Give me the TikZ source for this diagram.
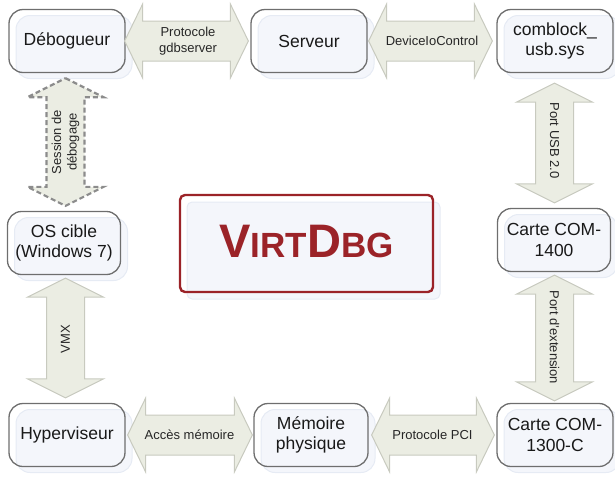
\documentclass[tikz,border=0pt]{standalone}
\usepackage{fontspec}
\setmainfont{Liberation Sans}
\usetikzlibrary{calc,shadows}
\definecolor{boxline}{HTML}{6E6E6E}
\definecolor{shadowfill}{HTML}{F4F6FB}
\definecolor{shadowline}{HTML}{E6EBF4}
\definecolor{arrowfill}{HTML}{EBEDE3}
\definecolor{arrowline}{HTML}{C8CABF}
\definecolor{dashline}{HTML}{8C8C8C}
\definecolor{dbgred}{HTML}{9B2328}
\tikzset{
  boxshadow/.style={drop shadow={shadow xshift=7pt, shadow yshift=-6pt, fill=shadowfill, draw=shadowline, line width=1pt, opacity=1}},
  box/.style={draw=boxline, line width=1.3pt, rounded corners=14pt, minimum width=116pt, minimum height=63pt,
    align=center, font=\fontsize{17.5}{20.5}\selectfont, text=black!90, inner sep=0pt, boxshadow},
  arr/.style={fill=arrowfill, draw=arrowline, line width=1pt},
  dasharr/.style={fill=arrowfill, draw=dashline, line width=2.2pt, dash pattern=on 5pt off 3pt},
  lbl/.style={font=\fontsize{13}{15.5}\selectfont, align=center, text=black!85, inner sep=0pt},
  titlebox/.style={draw=dbgred, line width=2.4pt, rounded corners=5pt, minimum width=253pt, minimum height=97pt,
    drop shadow={shadow xshift=7pt, shadow yshift=-7pt, fill=shadowfill, draw=shadowline, line width=1pt, opacity=1}},
}
\newcommand{\HArr}[3]{%
  \draw[#1] let \p1=(#2), \p2=(#3), \p3=($(#2)!0.5!(#3)$) in
    (\x1,\y3) -- (\x1+18pt,\y3+37pt) -- (\x1+18pt,\y3+20pt) -- (\x2-18pt,\y3+20pt) -- (\x2-18pt,\y3+37pt)
    -- (\x2,\y3) -- (\x2-18pt,\y3-37pt) -- (\x2-18pt,\y3-20pt) -- (\x1+18pt,\y3-20pt) -- (\x1+18pt,\y3-37pt) -- cycle;}
\newcommand{\VArr}[3]{%
  \draw[#1] let \p1=(#2), \p2=(#3), \p3=($(#2)!0.5!(#3)$) in
    (\x3,\y1) -- (\x3+38pt,\y1-19pt) -- (\x3+19pt,\y1-19pt) -- (\x3+19pt,\y2+19pt) -- (\x3+38pt,\y2+19pt)
    -- (\x3,\y2) -- (\x3-38pt,\y2+19pt) -- (\x3-19pt,\y2+19pt) -- (\x3-19pt,\y1-19pt) -- (\x3-38pt,\y1-19pt) -- cycle;}
\begin{document}
\begin{tikzpicture}[x=1pt,y=-1pt]
\useasboundingbox (0,0) rectangle (615,477);
% boxes
\node[box] (deb) at (67,41) {Débogueur};
\node[box] (srv) at (309,41) {Serveur};
\node[box] (usb) at (555,41) {comblock\_\\usb.sys};
\node[box, minimum width=113pt] (os) at (64,243) {OS cible\\(Windows 7)};
\node[box, minimum width=113pt] (c14) at (554,240) {Carte COM-\\1400};
\node[box] (hyp) at (67,435) {Hyperviseur};
\node[box, minimum width=114pt] (mem) at (311,435) {Mémoire\\physique};
\node[box] (c13) at (555,435) {Carte COM-\\1300-C};
% central title
\node[titlebox] (title) at (306.5,243.5) {\raisebox{3.5pt}{\bfseries\color{dbgred}\fontsize{47}{47}\selectfont V\fontsize{35}{35}\selectfont IRT\fontsize{47}{47}\selectfont D\fontsize{35}{35}\selectfont BG}};
% horizontal arrows
\HArr{arr}{[xshift=-1pt]deb.east}{[xshift=-2pt]srv.west}
\node[lbl] (lgdb) at ($(deb.east)!0.5!(srv.west)$) {Protocole\\gdbserver};
\HArr{arr}{[xshift=1pt]srv.east}{[xshift=-4pt]usb.west}
\node[lbl] (ldic) at ($(srv.east)!0.5!(usb.west)$) {DeviceIoControl};
\HArr{arr}{[xshift=2pt]hyp.east}{[xshift=-1pt]mem.west}
\node[lbl] (lmem) at ($(hyp.east)!0.5!(mem.west)$) {Accès mémoire};
\HArr{arr}{[xshift=3pt]mem.east}{[xshift=-2pt]c13.west}
\node[lbl] (lpci) at ($(mem.east)!0.5!(c13.west)$) {Protocole PCI};
% vertical arrows
\VArr{dasharr}{[yshift=-5pt]deb.south}{[yshift=5pt]os.north}
\node[lbl, rotate=90] (lses) at ($(deb.south)!0.5!(os.north)$) {Session de\\débogage};
\VArr{arr}{[yshift=-10pt]usb.south}{[yshift=5pt]c14.north}
\node[lbl, rotate=-90] (lusb) at ($(usb.south)!0.5!(c14.north)$) {Port USB 2.0};
\VArr{arr}{[yshift=-3pt]os.south}{[yshift=5pt]hyp.north}
\node[lbl, rotate=90] (lvmx) at ($(os.south)!0.5!(hyp.north)$) {VMX};
\VArr{arr}{[yshift=-3pt]c14.south}{[yshift=2pt]c13.north}
\node[lbl, rotate=-90] (lext) at ($(c14.south)!0.5!(c13.north)$) {Port d'extension};
\end{tikzpicture}
\end{document}
